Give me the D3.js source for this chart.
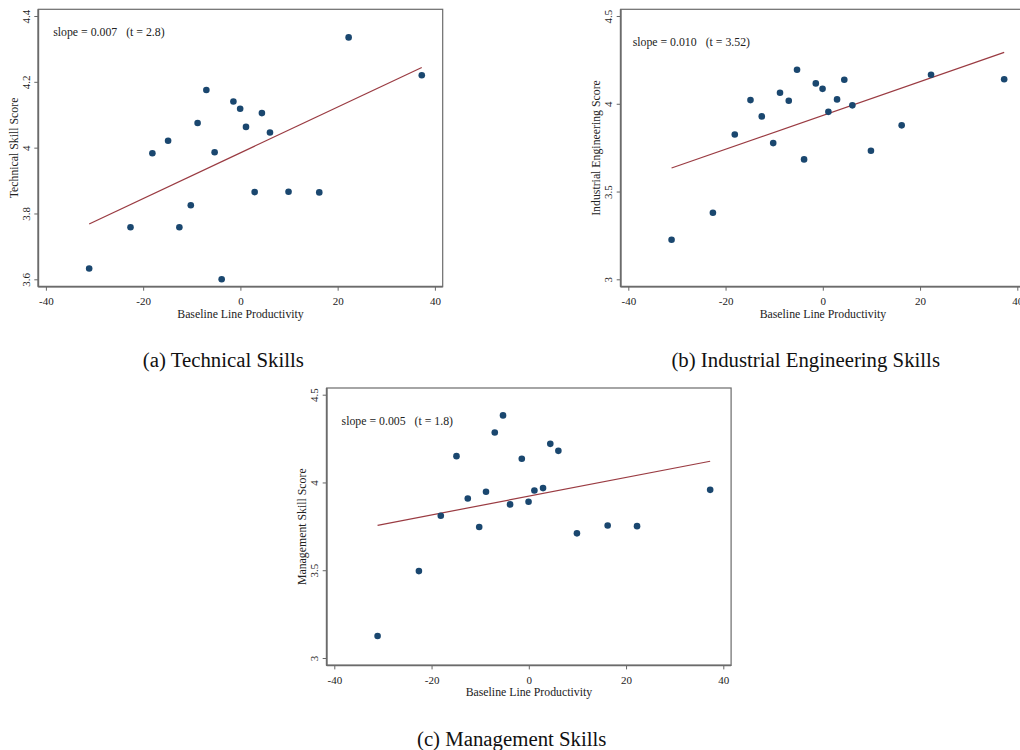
<!DOCTYPE html>
<html>
<head>
<meta charset="utf-8">
<script src="https://cdn.jsdelivr.net/npm/d3@7"></script>
<style>
  body { margin: 0; background: #fff; }
  svg { display: block; }
  text { font-family: "Liberation Serif", "Times New Roman", serif; fill: #222; }
</style>
</head>
<body>
<svg id="fig" width="1020" height="750"></svg>
<script>
// Baseline line productivity (same 20 lines in every panel)
const productivity = [-31.1, -22.6, -18.1, -14.87, -12.55, -10.2, -8.8, -7.0, -5.3, -3.85,
                      -1.44, -0.05, 1.15, 2.93, 4.42, 6.08, 9.9, 16.22, 22.26, 37.3];

// Skill scores per line
const technicalScore   = [3.633, 3.758, 3.983, 4.021, 3.758, 3.825, 4.075, 4.175, 3.986, 3.600,
                          4.140, 4.118, 4.063, 3.865, 4.105, 4.046, 3.866, 3.864, 4.335, 4.220];
const engineeringScore = [3.225, 3.379, 3.825, 4.021, 3.928, 3.776, 4.063, 4.017, 4.194, 3.683,
                          4.116, 4.085, 3.954, 4.025, 4.137, 3.991, 3.732, 3.877, 4.165, 4.140];
const managementScore  = [3.125, 3.495, 3.810, 4.150, 3.909, 3.746, 3.947, 4.285, 4.382, 3.875,
                          4.135, 3.890, 3.954, 3.968, 4.220, 4.180, 3.710, 3.755, 3.751, 3.958];

// Axis ticks
const xTicks = [-40, -20, 0, 20, 40];
const technicalTicks = [3.6, 3.8, 4, 4.2, 4.4];
const skillTicks = [3, 3.5, 4, 4.5];

// Text
const yTitles = ["Technical Skill Score", "Industrial Engineering Score", "Management Skill Score"];
const slopeLabels = ["slope = 0.007", "slope = 0.010", "slope = 0.005"];
const tLabels = ["(t = 2.8)", "(t = 3.52)", "(t = 1.8)"];
const captions = ["(a) Technical Skills", "(b) Industrial Engineering Skills", "(c) Management Skills"];
const xTitle = "Baseline Line Productivity";

// Panel frames: top-left corner of each plot box
const frames = [
  { left: 38.3,  top: 9.3,  captionY: 367,   noteX: -38.5 },
  { left: 620.7, top: 9.3,  captionY: 367,   noteX: -39.1 },
  { left: 326.7, top: 388,  captionY: 745.5, noteX: -38.5 }
];
const FRAME_W = 404.4, FRAME_H = 277.4;
const PAD_X = 7.6, RANGE_W = 389;
const PAD_TOP = 6.7, RANGE_H = 263.3;

const scoreSets = [technicalScore, engineeringScore, managementScore];
const tickSets = [technicalTicks, skillTicks, skillTicks];

const svg = d3.select("#fig");

// least-squares fit of score on productivity
function ols(xs, ys) {
  const mx = d3.mean(xs), my = d3.mean(ys);
  let sxy = 0, sxx = 0;
  xs.forEach((x, i) => { sxy += (x - mx) * (ys[i] - my); sxx += (x - mx) * (x - mx); });
  const b = sxy / sxx;
  return { b, a: my - b * mx };
}

scoreSets.forEach((scores, p) => {
  const f = frames[p];
  const yt = tickSets[p];
  const g = svg.append("g");

  const x = d3.scaleLinear().domain([-40, 40])
    .range([f.left + PAD_X, f.left + PAD_X + RANGE_W]);
  const y = d3.scaleLinear().domain([yt[0], yt[yt.length - 1]])
    .range([f.top + PAD_TOP + RANGE_H, f.top + PAD_TOP]);

  const bottom = f.top + FRAME_H, right = f.left + FRAME_W;

  // plot box
  g.append("rect")
    .attr("x", f.left).attr("y", f.top)
    .attr("width", FRAME_W).attr("height", FRAME_H)
    .attr("fill", "#fff").attr("stroke", "#6b6b6b").attr("stroke-width", 1.2);

  // x axis
  const xa = g.append("g")
    .attr("transform", `translate(0,${bottom})`)
    .call(d3.axisBottom(x).tickValues(xTicks).tickFormat(d => String(d))
      .tickSize(4).tickSizeOuter(0));
  xa.select(".domain").remove();
  xa.selectAll(".tick line").attr("stroke", "#555").attr("stroke-width", 0.9);
  xa.selectAll(".tick text")
    .attr("y", 14.5).attr("dy", "0.35em")
    .style("font-size", "11px").style("font-family", null);

  // y axis with rotated labels
  const ya = g.append("g")
    .attr("transform", `translate(${f.left},0)`)
    .call(d3.axisLeft(y).tickValues(yt).tickFormat(d => String(d))
      .tickSize(4).tickSizeOuter(0));
  ya.select(".domain").remove();
  ya.selectAll(".tick line").attr("stroke", "#555").attr("stroke-width", 0.9);
  ya.selectAll(".tick text")
    .attr("x", null).attr("dy", null)
    .attr("transform", "translate(-12.5,0) rotate(-90)")
    .attr("text-anchor", "middle")
    .attr("dominant-baseline", "central")
    .style("font-size", "11px").style("font-family", null);

  // axis lines (heavier than the box)
  g.append("line").attr("x1", f.left).attr("x2", right)
    .attr("y1", bottom).attr("y2", bottom)
    .attr("stroke", "#6b6b6b").attr("stroke-width", 1.8);
  g.append("line").attr("x1", f.left).attr("x2", f.left)
    .attr("y1", f.top).attr("y2", bottom)
    .attr("stroke", "#6b6b6b").attr("stroke-width", 1.8);

  // axis titles
  g.append("text")
    .attr("x", f.left + FRAME_W / 2).attr("y", bottom + 31)
    .attr("text-anchor", "middle").style("font-size", "11.8px")
    .text(xTitle);
  g.append("text")
    .attr("transform", `translate(${f.left - 20.5},${f.top + FRAME_H / 2}) rotate(-90)`)
    .attr("text-anchor", "middle").style("font-size", "11.8px")
    .text(yTitles[p]);

  // fitted line
  const fit = ols(productivity, scores);
  const [xMin, xMax] = d3.extent(productivity);
  g.append("path")
    .datum([xMin, xMax])
    .attr("d", d3.line().x(d => x(d)).y(d => y(fit.a + fit.b * d)))
    .attr("fill", "none").attr("stroke", "#9a3b42").attr("stroke-width", 1.2);

  // points
  g.selectAll("circle.pt")
    .data(productivity.map((v, i) => [v, scores[i]]))
    .join("circle").attr("class", "pt")
    .attr("cx", d => x(d[0])).attr("cy", d => y(d[1]))
    .attr("r", 3.3).attr("fill", "#1a476f");

  // slope annotation
  const ann = g.append("text")
    .attr("x", x(f.noteX)).attr("y", y(4.35))
    .attr("dominant-baseline", "central")
    .style("font-size", "11.8px");
  ann.append("tspan").text(slopeLabels[p]);
  ann.append("tspan").attr("dx", 9).text(tLabels[p]);

  // sub-figure caption
  svg.append("text")
    .attr("x", f.left + 185).attr("y", f.captionY)
    .attr("text-anchor", "middle")
    .style("font-size", "20.8px").style("fill", "#111")
    .text(captions[p]);
});
</script>
</body>
</html>
